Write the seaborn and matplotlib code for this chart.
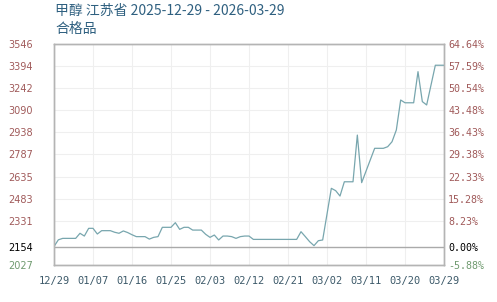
import matplotlib
matplotlib.use("Agg")
import matplotlib.pyplot as plt
import seaborn as sns
import pandas as pd
import numpy as np

# ---- data ----
start_date = "2025-12-29"
day_offsets = [0, 1, 2, 3, 4, 5, 6, 7, 8, 9, 10, 11, 12, 13, 14, 15, 16, 17, 18, 19,
               20, 21, 22, 23, 24, 25, 26, 27, 28, 29, 30, 31, 32, 33, 34, 35, 36, 37, 38, 39,
               40, 41, 42, 43, 44, 45, 46, 47, 48, 49, 50, 51, 52, 53, 54, 55, 56, 57, 58, 59,
               60, 61, 62, 64, 65, 66, 67, 68, 69, 70, 71, 74, 75, 76, 77, 78, 79, 80,
               81, 82, 83, 84, 85, 86, 88, 89, 90]
prices = [2154, 2200, 2210, 2210, 2210, 2210, 2245, 2226, 2279, 2279, 2240, 2263, 2263, 2263, 2252, 2245, 2261, 2250, 2235, 2222,
          2222, 2222, 2205, 2217, 2222, 2286, 2286, 2286, 2318, 2272, 2286, 2286, 2267, 2267, 2267, 2238, 2217, 2233, 2199, 2226,
          2226, 2222, 2210, 2222, 2226, 2226, 2203, 2203, 2203, 2203, 2203, 2203, 2203, 2203, 2203, 2203, 2203, 2256, 2222, 2187,
          2160, 2194, 2199, 2554, 2538, 2501, 2599, 2599, 2599, 2920, 2593, 2829, 2829, 2829, 2840, 2874, 2955, 3161,
          3142, 3142, 3142, 3356, 3150, 3127, 3400, 3400, 3400]
base_price = 2154
y_ticks = [2027, 2154, 2331, 2483, 2635, 2787, 2938, 3090, 3242, 3394, 3546]
right_labels = ["-5.88%", "0.00%", "8.23%", "15.28%", "22.33%", "29.38%",
                "36.43%", "43.48%", "50.54%", "57.59%", "64.64%"]
x_tick_labels = ["12/29", "01/07", "01/16", "01/25", "02/03", "02/12",
                 "02/21", "03/02", "03/11", "03/20", "03/29"]
title = "甲醇 江苏省 2025-12-29 - 2026-03-29"
subtitle = "合格品"

sns.set_style("white")
plt.rcParams['font.family'] = ['Noto Sans CJK SC', 'DejaVu Sans']

dates = pd.to_datetime(start_date) + pd.to_timedelta(day_offsets, unit="D")
df = pd.DataFrame({"date": dates, "price": prices})

W, H = 497, 302
fig = plt.figure(figsize=(W / 100, H / 100), dpi=100)
ax = fig.add_axes([54 / W, 1 - 265 / H, (444 - 54) / W, (265 - 44) / H])

tick_dates = pd.date_range(start_date, periods=len(x_tick_labels), freq="9D")

# grid
for v in y_ticks:
    if v != base_price:
        ax.axhline(v, color="#efefef", lw=0.8, zorder=0)
for d in tick_dates:
    ax.axvline(d, color="#efefef", lw=0.8, zorder=0)
ax.axhline(base_price, color="#aaaaaa", lw=1.0, zorder=1)

sns.lineplot(data=df, x="date", y="price", ax=ax, color="#78a6ae", lw=0.9, zorder=3)

ax.set_xlim(tick_dates[0], tick_dates[-1])
ax.set_ylim(y_ticks[0], y_ticks[-1])
ax.set_xticks(tick_dates)
ax.set_xticklabels(x_tick_labels, family="DejaVu Sans Mono", fontsize=7.5, color="#3d5a6a")
ax.set_yticks(y_ticks)

def lab_color(v):
    if v > base_price:
        return "#a05a5a"
    if v == base_price:
        return "#000000"
    return "#6f9a6f"

ax.set_yticklabels([str(v) for v in y_ticks], family="DejaVu Sans", fontsize=7)
for t, v in zip(ax.get_yticklabels(), y_ticks):
    t.set_color(lab_color(v))
ax.tick_params(axis="both", length=0, pad=8)
ax.tick_params(axis="y", pad=33)
for lbl in ax.get_yticklabels():
    lbl.set_horizontalalignment("left")
ax.set_xlabel("")
ax.set_ylabel("")

ax2 = ax.twinx()
ax2.set_ylim(y_ticks[0], y_ticks[-1])
ax2.set_yticks(y_ticks)
ax2.set_yticklabels(right_labels, family="DejaVu Sans Mono", fontsize=7.2)
for t, v in zip(ax2.get_yticklabels(), y_ticks):
    t.set_color(lab_color(v))
ax2.tick_params(axis="y", length=0, pad=3)

for a in (ax, ax2):
    for s in a.spines.values():
        s.set_color("#b4b4b4")
        s.set_linewidth(1.0)

fig.text(55 / W, 1 - 4 / H, title, fontsize=10, color="#2f6080", va="top", ha="left")
fig.text(55 / W, 1 - 22 / H, subtitle, fontsize=10, color="#2f6080", va="top", ha="left")

fig.savefig("out.png", dpi=100)
